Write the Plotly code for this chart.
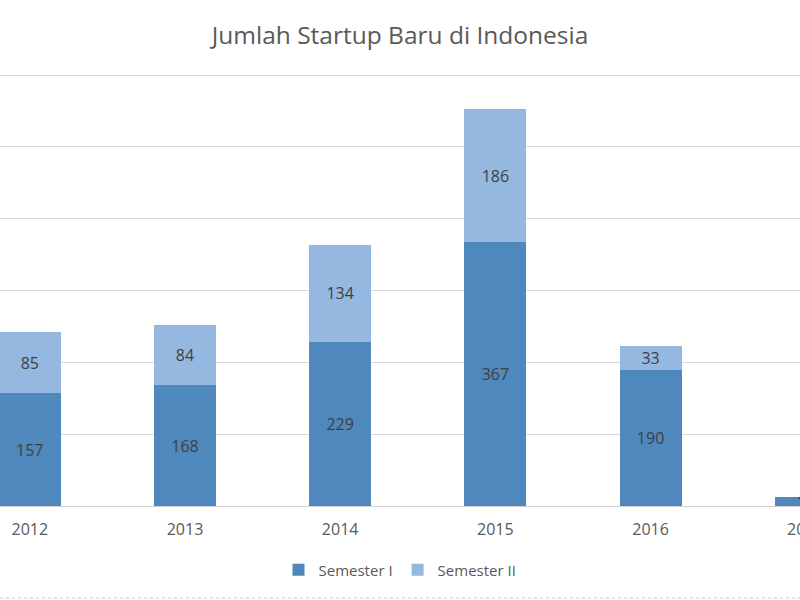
import plotly.graph_objects as go

years = ["2012", "2013", "2014", "2015", "2016", "2017"]
semester1 = [157, 168, 229, 367, 190, 12]
semester2 = [85, 84, 134, 186, 33, None]

font_family = "Open Sans, Liberation Sans, sans-serif"

x_lo, x_hi = -0.192, 4.963
plot_h = 433

fig = go.Figure()
fig.add_trace(go.Bar(
    x=years, y=semester1, name="Semester I",
    marker=dict(color="#4f88bd", line=dict(width=0)),
    text=[str(v) for v in semester1], textposition="inside",
    insidetextanchor="middle", textangle=0,
    textfont=dict(color="#404040", size=16, family=font_family),
))
fig.add_trace(go.Bar(
    x=years, y=semester2, name="Semester II",
    marker=dict(color="#95b8e0", line=dict(width=0)),
    text=[str(v) if v is not None else "" for v in semester2], textposition="inside",
    insidetextanchor="middle", textangle=0,
    textfont=dict(color="#404040", size=16, family=font_family),
))

# tick label of the last category, which sits partly beyond the visible range
last_idx = len(years) - 1
fig.add_annotation(
    text=years[last_idx], xref="paper", yref="paper",
    x=(last_idx - x_lo) / (x_hi - x_lo), y=-23 / plot_h,
    xanchor="center", yanchor="middle", showarrow=False,
    font=dict(size=16, color="#595959", family=font_family),
)

fig.update_layout(
    barmode="stack",
    bargap=0.6,
    width=800, height=600,
    margin=dict(l=0, r=0, t=600 - 94 - plot_h, b=94),
    paper_bgcolor="white", plot_bgcolor="white",
    font=dict(family=font_family, color="#595959"),
    uniformtext=dict(minsize=16, mode="show"),
    title=dict(text="Jumlah Startup Baru di Indonesia", x=0.5, xanchor="center",
               y=1 - 35 / 600, yanchor="middle", yref="container",
               font=dict(size=24.5, color="#595959", family=font_family)),
    legend=dict(orientation="h", x=0.5, xanchor="center", y=-64 / plot_h, yanchor="middle",
                font=dict(size=15, color="#595959"), traceorder="normal",
                itemwidth=30),
    xaxis=dict(type="category", range=[x_lo, x_hi], showgrid=False,
               showline=False, ticks="", ticklabelstandoff=12,
               tickfont=dict(size=16, color="#595959")),
    yaxis=dict(range=[0, 603], tickvals=[0, 100, 200, 300, 400, 500, 600],
               showgrid=True, gridcolor="#d9d9d9",
               gridwidth=1, showticklabels=False, zeroline=True,
               zerolinecolor="#d0d0d0", zerolinewidth=1),
    shapes=[dict(type="line", xref="paper", yref="paper", x0=0, x1=1,
                 y0=-92 / plot_h, y1=-92 / plot_h,
                 line=dict(color="#c8c8c8", width=1, dash="dot"))],
)

fig.write_html("out.html")
